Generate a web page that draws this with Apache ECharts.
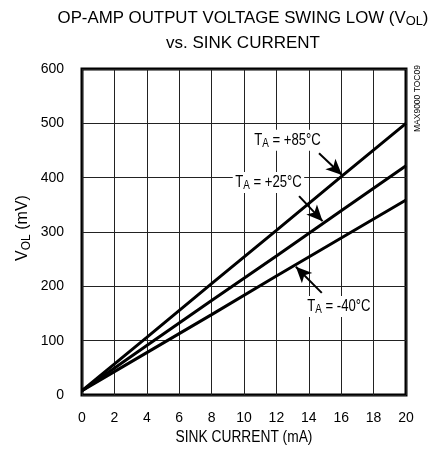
<!DOCTYPE html>
<html>
<head>
<meta charset="utf-8">
<script src="https://cdn.jsdelivr.net/npm/echarts@6/dist/echarts.min.js"></script>
<style>
html,body{margin:0;padding:0;background:#fff;}
#c{width:435px;height:455px;}
</style>
</head>
<body>
<div id="c"></div>
<script>
// Data
var sinkCurrent = [0, 4, 8, 12, 16, 20];          // mA
var vol85 = [8, 106, 205, 303, 402, 500];          // mV, TA = +85°C
var vol25 = [8, 91, 174, 256, 339, 422];           // mV, TA = +25°C
var volM40 = [8, 78, 148, 219, 289, 359];          // mV, TA = -40°C
var xTicks = [0, 2, 4, 6, 8, 10, 12, 14, 16, 18, 20];
var yTicks = [0, 100, 200, 300, 400, 500, 600];
// annotation labels (data coordinates) and their arrows
var annotX = [12.69, 11.51, 15.86];
var annotY = [469, 391, 163];
var annotText = ['+85°C', '+25°C', '-40°C'];
var arrowFrom = [[14.63, 445], [13.4, 366], [14.8, 188]];
var arrowTo = [[16.05, 405], [14.85, 320], [13.2, 236]];

function pairs(xs, ys){ return xs.map(function(x,i){return [x, ys[i]];}); }

var FA = '"Liberation Sans", Arial, Helvetica, sans-serif';
var SX = 0.82; // horizontal condensing to mimic a narrow Helvetica

var lineStyle = {color: '#000', width: 3};

function arrowSeries(i){
  return {
    silent: true, symbol: ['none', 'arrow'], symbolSize: [11, 16],
    lineStyle: {color: '#000', width: 2, type: 'solid'}, label: {show: false},
    data: [[{coord: arrowFrom[i]}, {coord: arrowTo[i]}]]
  };
}

var chart = echarts.init(document.getElementById('c'), null, {renderer: 'canvas'});
chart.setOption({
  animation: false,
  backgroundColor: '#fff',
  grid: {left: 82, top: 69, right: 29, bottom: 60, show: true, borderColor: '#000', borderWidth: 3, backgroundColor: 'transparent'},
  xAxis: {
    type: 'value', min: 0, max: 20, interval: 2,
    axisLine: {show: false}, axisTick: {show: false},
    splitLine: {show: true, lineStyle: {color: '#222', width: 1}},
    axisLabel: {fontFamily: FA, fontSize: 14, color: '#000', margin: 16,
      formatter: function(v){ return xTicks.indexOf(v) >= 0 ? String(v) : ''; }}
  },
  yAxis: {
    type: 'value', min: 0, max: 600, interval: 100,
    axisLine: {show: false}, axisTick: {show: false},
    splitLine: {show: true, lineStyle: {color: '#222', width: 1}},
    axisLabel: {fontFamily: FA, fontSize: 14, color: '#000', margin: 18,
      formatter: function(v){ return yTicks.indexOf(v) >= 0 ? String(v) : ''; }}
  },
  graphic: [
    {type: 'text', x: 243, y: 18, scaleX: 0.99, z: 10,
      style: {text: '{a|OP-AMP OUTPUT VOLTAGE SWING LOW (V}{s|OL}{a|)}', align: 'center', verticalAlign: 'middle',
        rich: {a: {font: '17px ' + FA, fill: '#000'}, s: {font: '13px ' + FA, fill: '#000', padding: [7,0,0,0]}}}},
    {type: 'text', x: 243, y: 43, z: 10,
      style: {text: 'vs. SINK CURRENT', font: '17px ' + FA, fill: '#000', align: 'center', verticalAlign: 'middle'}},
    {type: 'text', x: 244, y: 438, scaleX: 0.86, z: 10,
      style: {text: 'SINK CURRENT (mA)', font: '16px ' + FA, fill: '#000', align: 'center', verticalAlign: 'middle'}},
    {type: 'text', x: 23, y: 228, rotation: Math.PI/2, z: 10,
      style: {text: '{a|V}{s|OL}{a| (mV)}', align: 'center', verticalAlign: 'middle',
        rich: {a: {font: '16px ' + FA, fill: '#000'}, s: {font: '12px ' + FA, fill: '#000', padding: [7,0,0,0]}}}},
    {type: 'text', x: 418, y: 132, rotation: Math.PI/2, z: 10,
      style: {text: 'MAX9000 TOC09', font: '8.5px ' + FA, fill: '#000', align: 'left', verticalAlign: 'middle'}}
  ],
  series: [
    {type: 'line', name: '+85', data: pairs(sinkCurrent, vol85), symbol: 'none', lineStyle: lineStyle, markLine: arrowSeries(0)},
    {type: 'line', name: '+25', data: pairs(sinkCurrent, vol25), symbol: 'none', lineStyle: lineStyle, markLine: arrowSeries(1)},
    {type: 'line', name: '-40', data: pairs(sinkCurrent, volM40), symbol: 'none', lineStyle: lineStyle, markLine: arrowSeries(2)},
    {
      type: 'custom', name: 'labels', coordinateSystem: 'cartesian2d', z: 20, silent: true, clip: false,
      data: pairs(annotX, annotY),
      renderItem: function(params, api){
        var p = api.coord([api.value(0), api.value(1)]);
        return {
          type: 'text', x: p[0], y: p[1], scaleX: SX,
          style: {
            text: '{a|T}{s|A}{a| = ' + annotText[params.dataIndex] + '}',
            align: 'center', verticalAlign: 'middle',
            backgroundColor: '#fff', padding: [1, 3],
            rich: {a: {font: '16px ' + FA, fill: '#000'}, s: {font: '12px ' + FA, fill: '#000', padding: [7,0,0,0]}}
          }
        };
      }
    }
  ]
});
</script>
</body>
</html>
